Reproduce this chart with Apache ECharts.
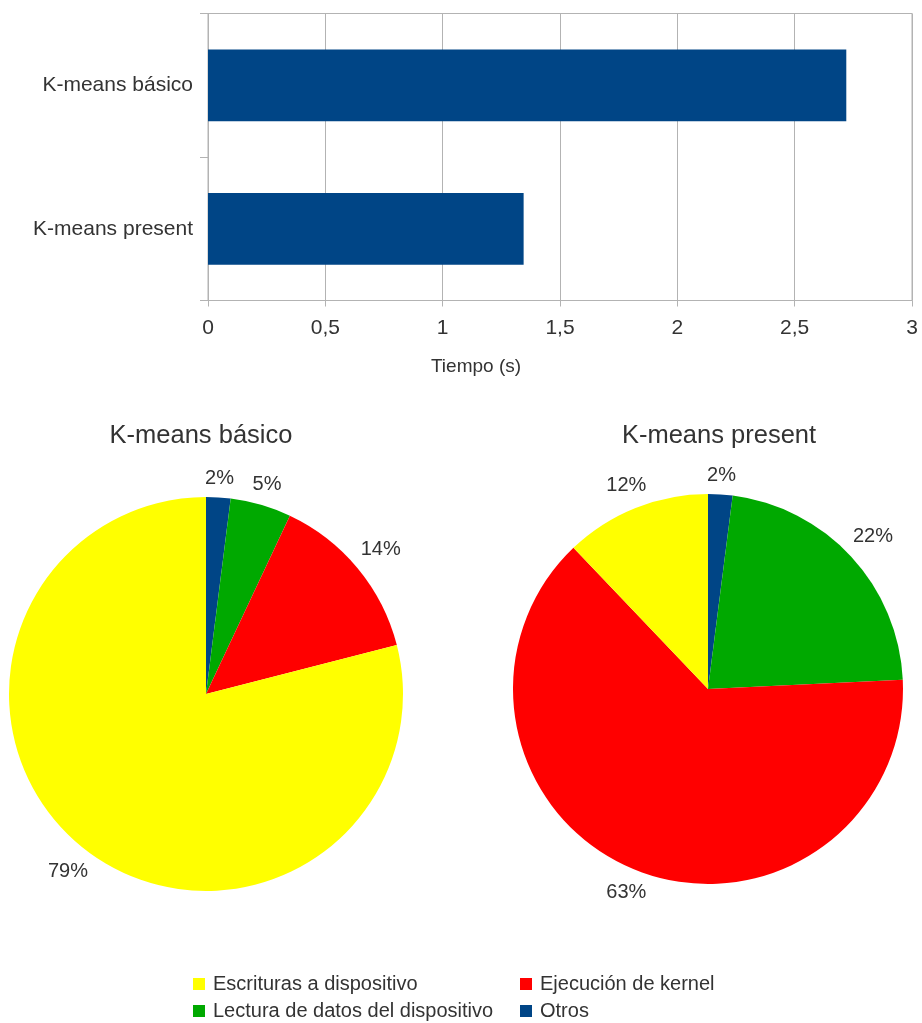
<!DOCTYPE html>
<html>
<head>
<meta charset="utf-8">
<script src="https://cdn.jsdelivr.net/npm/echarts@6/dist/echarts.min.js"></script>
<style>
  html, body { margin: 0; padding: 0; background: #ffffff; }
  #chart { width: 922px; height: 1023px; }
</style>
</head>
<body>
<div id="chart"></div>
<script>
// Execution time per implementation (seconds)
const implementations = ['K-means básico', 'K-means present'];
const totalTime = [2.72, 1.345];
const timeTicks = ['0', '0,5', '1', '1,5', '2', '2,5', '3'];

// Time breakdown per phase (percent)
const phases = ['Otros', 'Lectura de datos del dispositivo', 'Ejecución de kernel', 'Escrituras a dispositivo'];
const phaseColors = ['#004586', '#00a900', '#ff0000', '#ffff00'];
const shareBasico = [2, 5, 14, 79];
const sharePresent = [2, 22, 63, 12];

const FONT = "'Liberation Sans', Arial, sans-serif";
const TEXT = '#333333';
const LINE = '#b3b3b3';

const chart = echarts.init(document.getElementById('chart'), null, { renderer: 'canvas' });

function pieData(values) {
  return values.map((v, i) => ({ name: phases[i], value: v, itemStyle: { color: phaseColors[i] } }));
}

// Places each percentage just outside the rim along the slice's mid direction,
// pushing the label box clear of the circle.
function outerLabel(cx, cy, r, gap) {
  return function (params) {
    const lr = params.labelRect;
    const lx = lr.x + lr.width / 2;
    const ly = lr.y + lr.height / 2;
    let dx = lx - cx, dy = ly - cy;
    const len = Math.sqrt(dx * dx + dy * dy) || 1;
    dx /= len; dy /= len;
    const extent = Math.abs(dx) * lr.width / 2 + Math.abs(dy) * lr.height / 2;
    const d = r + gap + extent;
    return { x: cx + dx * d, y: cy + dy * d, align: 'center', verticalAlign: 'middle' };
  };
}

function pieSeries(values, cx, cy, r) {
  return {
    type: 'pie',
    center: [cx, cy],
    radius: [0, r],
    startAngle: 90,
    clockwise: true,
    avoidLabelOverlap: false,
    silent: true,
    data: pieData(values),
    itemStyle: { borderWidth: 0 },
    label: {
      show: true,
      position: 'inside',
      formatter: '{c}%',
      color: TEXT,
      fontFamily: FONT,
      fontSize: 20
    },
    labelLine: { show: false },
    labelLayout: outerLabel(cx, cy, r, 8),
    emphasis: { disabled: true }
  };
}

function legendBlock(left, names) {
  return {
    orient: 'vertical', left: left, top: 974, padding: 0,
    itemWidth: 12, itemHeight: 12, itemGap: 7,
    icon: 'rect', selectedMode: false,
    data: names,
    textStyle: { fontFamily: FONT, fontSize: 20, color: TEXT, padding: [0, 0, 0, 3] }
  };
}

const option = {
  animation: false,
  backgroundColor: '#ffffff',
  textStyle: { fontFamily: FONT, color: TEXT },
  title: [
    { text: 'K-means básico', left: 201, top: 423, textAlign: 'center', padding: 0,
      textStyle: { fontFamily: FONT, fontSize: 25.5, fontWeight: 'normal', color: TEXT } },
    { text: 'K-means present', left: 719, top: 423, textAlign: 'center', padding: 0,
      textStyle: { fontFamily: FONT, fontSize: 25.5, fontWeight: 'normal', color: TEXT } }
  ],
  legend: [
    legendBlock(193, ['Escrituras a dispositivo', 'Lectura de datos del dispositivo']),
    legendBlock(520, ['Ejecución de kernel', 'Otros'])
  ],
  grid: {
    left: 208, top: 13.5, width: 704, height: 287,
    show: true, borderColor: LINE, borderWidth: 1, containLabel: false
  },
  xAxis: {
    type: 'value',
    min: 0, max: 3, interval: 0.5,
    name: 'Tiempo (s)',
    nameLocation: 'middle',
    nameGap: 57,
    nameTextStyle: { fontFamily: FONT, fontSize: 19, color: TEXT, padding: [0, 168, 0, 0] },
    axisLine: { show: true, lineStyle: { color: LINE, width: 1 } },
    axisTick: { show: true, length: 6, lineStyle: { color: LINE } },
    splitLine: { show: true, lineStyle: { color: LINE, width: 1 } },
    axisLabel: {
      margin: 17, fontFamily: FONT, fontSize: 21, color: TEXT,
      formatter: (v) => timeTicks[Math.round(v / 0.5)]
    }
  },
  yAxis: {
    type: 'category',
    inverse: true,
    data: implementations,
    axisLine: { show: true, lineStyle: { color: LINE, width: 1 } },
    axisTick: { show: true, length: 8, alignWithLabel: false, lineStyle: { color: LINE } },
    splitLine: { show: false },
    axisLabel: { margin: 15, fontFamily: FONT, fontSize: 21, color: TEXT }
  },
  series: [
    {
      type: 'bar',
      data: totalTime,
      barWidth: '50%',
      itemStyle: { color: '#004586' },
      silent: true
    },
    pieSeries(shareBasico, 206, 694, 197),
    pieSeries(sharePresent, 708, 689, 195)
  ]
};

chart.setOption(option);
</script>
</body>
</html>
